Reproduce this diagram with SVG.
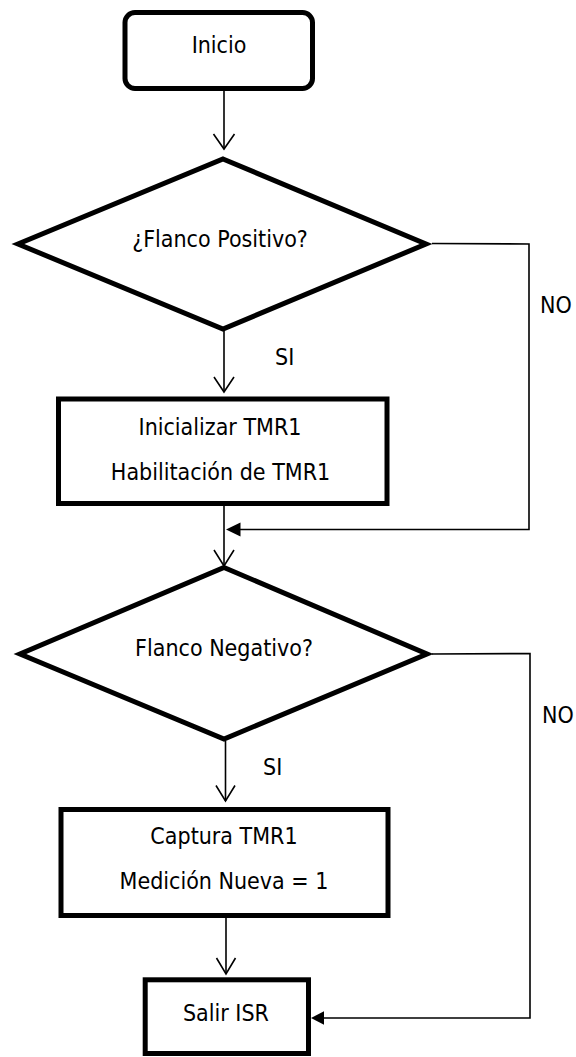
<svg xmlns="http://www.w3.org/2000/svg" width="576" height="1057" viewBox="0 0 576 1057">
  <style>
    .shape { fill: #ffffff; stroke: #000000; stroke-width: 5; }
    .label { font-family: "DejaVu Sans Condensed", "Liberation Sans", sans-serif; font-size: 23px; fill: #000000; }
    .mid { text-anchor: middle; }
    .wire { fill: none; stroke: #000000; stroke-width: 1.6; }
    .head { fill: #000000; stroke: none; }
  </style>
  <rect width="576" height="1057" fill="#ffffff"/>

  <!-- connectors -->
  <g id="connectors">
    <!-- Inicio -> Flanco Positivo -->
    <line class="wire" x1="224" y1="91" x2="224" y2="149"/>
    <polyline class="wire" points="213.5,134 224,149 234.5,134"/>
    <!-- Flanco Positivo -> Inicializar (SI) -->
    <line class="wire" x1="224" y1="331" x2="224" y2="392"/>
    <polyline class="wire" points="214,377 224,392 234,377"/>
    <!-- Flanco Positivo NO branch back to main flow -->
    <polyline class="wire" points="432,243.5 529,244 529,529.5 240,529.5"/>
    <polygon class="head" points="226,529.5 240.5,522.5 240.5,536.5"/>
    <!-- Inicializar -> Flanco Negativo -->
    <line class="wire" x1="224" y1="506" x2="224" y2="566"/>
    <polyline class="wire" points="214,550 224,566 234,550"/>
    <!-- Flanco Negativo -> Captura (SI) -->
    <line class="wire" x1="225.5" y1="741" x2="225.5" y2="801"/>
    <polyline class="wire" points="216,785.5 225.5,801 235,785.5"/>
    <!-- Flanco Negativo NO branch to Salir ISR -->
    <polyline class="wire" points="432,654 530,653.5 530,1018 323,1018"/>
    <polygon class="head" points="311,1018 324,1011.3 324,1024.7"/>
    <!-- Captura -> Salir ISR -->
    <line class="wire" x1="226" y1="918" x2="226" y2="974"/>
    <polyline class="wire" points="216.5,958 226,974 235.5,958"/>
  </g>

  <!-- branch labels -->
  <g id="branch-labels">
    <text class="label" x="275" y="365">SI</text>
    <text class="label" x="540" y="313">NO</text>
    <text class="label" x="263" y="775">SI</text>
    <text class="label" x="542" y="723">NO</text>
  </g>

  <g id="inicio">
    <rect class="shape" x="125" y="12.5" width="187.5" height="76" rx="10"/>
    <text class="label mid" x="219" y="53">Inicio</text>
  </g>

  <g id="flanco-positivo">
    <polygon class="shape" points="223,159 426,244 223,329 18,244"/>
    <text class="label mid" x="220" y="247">¿Flanco Positivo?</text>
  </g>

  <g id="inicializar">
    <rect class="shape" x="58.5" y="399" width="328.5" height="104.5"/>
    <text class="label mid" x="220" y="435">Inicializar TMR1</text>
    <text class="label mid" x="220.5" y="480">Habilitación de TMR1</text>
  </g>

  <g id="flanco-negativo">
    <polygon class="shape" points="224,567.5 427,654 224,739 20,654"/>
    <text class="label mid" x="224" y="656">Flanco Negativo?</text>
  </g>

  <g id="captura">
    <rect class="shape" x="61" y="809.5" width="327" height="106"/>
    <text class="label mid" x="224" y="844">Captura TMR1</text>
    <text class="label mid" x="224" y="889">Medición Nueva = 1</text>
  </g>

  <g id="salir">
    <rect class="shape" x="145.2" y="979.8" width="163.3" height="73.7"/>
    <text class="label mid" x="226" y="1021">Salir ISR</text>
  </g>
</svg>
